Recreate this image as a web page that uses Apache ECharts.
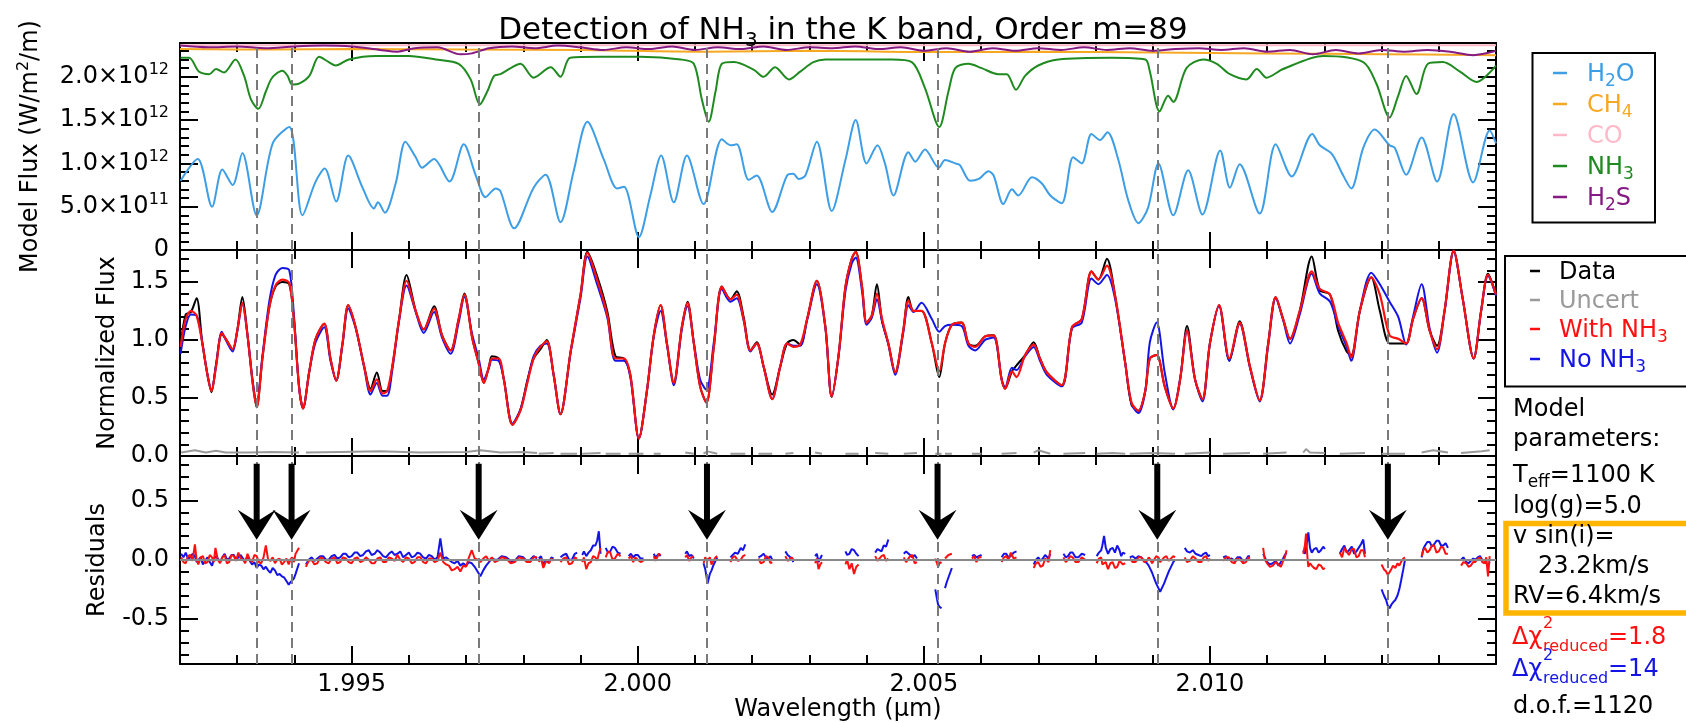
<!DOCTYPE html>
<html>
<head>
<meta charset="utf-8">
<script src="https://cdn.jsdelivr.net/npm/echarts@6/dist/echarts.min.js"></script>
<style>
  html, body { margin: 0; padding: 0; background: #fff; }
  #chart { width: 1686px; height: 723px; }
</style>
</head>
<body>
<div id="chart"></div>
<script>
// ---------------- data ----------------
// wavelength range (micron)
const WL_MIN = 1.992, WL_MAX = 2.015;
// NH3 line positions (micron)
const nh3Lines = [1.99334, 1.99395, 1.99722, 2.00121, 2.00524, 2.00908, 2.01311];

// Model flux panel, values in units of 1e12 W/m^2/m
const fluxH2O = [[1.99201,0.80],[1.99231,1.05],[1.99256,0.50],[1.99274,0.93],[1.99292,0.75],[1.99309,1.12],[1.99334,0.40],[1.99362,1.23],[1.99391,1.42],[1.99414,0.40],[1.99437,0.79],[1.99453,0.94],[1.99473,0.56],[1.99494,1.09],[1.99519,0.72],[1.99539,0.48],[1.99546,0.55],[1.99558,0.43],[1.99577,0.77],[1.99594,1.25],[1.99612,1.07],[1.99623,0.95],[1.99644,1.05],[1.99671,0.79],[1.99696,1.22],[1.99717,0.86],[1.99734,0.61],[1.99752,0.71],[1.9976,0.68],[1.99784,0.25],[1.99818,0.72],[1.99839,0.87],[1.99865,0.32],[1.99888,0.91],[1.99912,1.48],[1.99941,1.04],[1.99964,0.71],[1.99976,0.73],[2.00002,0.15],[2.00022,0.63],[2.00041,1.09],[2.00063,0.55],[2.00086,1.09],[2.00115,0.53],[2.00147,1.28],[2.00162,1.21],[2.00173,1.22],[2.00194,0.81],[2.00208,0.86],[2.00235,0.44],[2.00261,0.86],[2.00272,0.88],[2.00281,0.82],[2.00293,0.86],[2.00313,1.25],[2.00339,0.45],[2.00363,1.04],[2.00381,1.50],[2.004,1.00],[2.00419,1.21],[2.00432,1.00],[2.00447,0.63],[2.00473,1.13],[2.00485,1.02],[2.00502,1.16],[2.00526,0.95],[2.00537,1.04],[2.00555,1.00],[2.00563,0.98],[2.00581,0.80],[2.00596,0.82],[2.00613,0.91],[2.00622,0.86],[2.00639,0.53],[2.00654,0.70],[2.00665,0.63],[2.00689,0.84],[2.00706,0.77],[2.00721,0.63],[2.00741,0.54],[2.00761,1.07],[2.00776,1.00],[2.00793,1.34],[2.00808,1.27],[2.00821,1.36],[2.0084,1.04],[2.00857,0.58],[2.00875,0.31],[2.00892,0.49],[2.0091,1.00],[2.00936,0.40],[2.00962,0.92],[2.00987,0.41],[2.01018,1.15],[2.01035,0.72],[2.01052,0.99],[2.01087,0.42],[2.01115,1.22],[2.01143,0.85],[2.01179,1.34],[2.01192,1.21],[2.01213,1.11],[2.01233,0.86],[2.01247,0.71],[2.01268,1.18],[2.01288,1.39],[2.01314,1.21],[2.01323,1.18],[2.01343,0.87],[2.0137,1.30],[2.01397,0.79],[2.01426,1.57],[2.0146,0.78],[2.01489,1.38],[2.015,1.23]];
const fluxCH4 = [[1.992,2.32],[1.9936,2.315],[1.995,2.32],[1.997,2.315],[1.999,2.31],[2.0012,2.29],[2.003,2.30],[2.0053,2.285],[2.007,2.29],[2.009,2.28],[2.011,2.27],[2.013,2.26],[2.015,2.25]];
const fluxCO = [[1.992,2.365],[2.0035,2.365],[2.015,2.365]];
const fluxNH3 = [[1.99201,2.22],[1.99216,2.22],[1.99233,2.06],[1.99251,2.03],[1.99263,2.09],[1.99277,2.05],[1.99297,2.20],[1.99312,2.01],[1.99324,1.74],[1.99337,1.63],[1.9935,1.83],[1.99359,1.97],[1.99367,2.03],[1.99379,2.07],[1.99388,2.01],[1.99396,1.91],[1.99408,1.92],[1.99426,2.01],[1.99443,2.23],[1.9946,2.17],[1.99472,2.13],[1.99495,2.20],[1.99542,2.24],[1.996,2.24],[1.99647,2.20],[1.99687,2.15],[1.99708,1.97],[1.99724,1.68],[1.99737,1.83],[1.99749,2.01],[1.9976,2.03],[1.99778,2.10],[1.99795,2.15],[1.99818,1.99],[1.99848,2.11],[1.99865,2.00],[1.99882,2.22],[1.99935,2.23],[2.00005,2.23],[2.00075,2.20],[2.00098,2.15],[2.00112,1.74],[2.00124,1.48],[2.00136,1.83],[2.00147,2.15],[2.00168,2.17],[2.00203,2.08],[2.0022,2.00],[2.0024,2.11],[2.00264,1.97],[2.00284,2.06],[2.00307,2.17],[2.00328,2.20],[2.00386,2.20],[2.00444,2.20],[2.00479,2.17],[2.00502,1.87],[2.00527,1.42],[2.00543,1.83],[2.00555,2.10],[2.00578,2.15],[2.00601,2.10],[2.0063,2.03],[2.00645,2.03],[2.00661,1.85],[2.00677,2.01],[2.007,2.13],[2.00735,2.20],[2.00828,2.22],[2.00887,2.20],[2.00895,2.06],[2.00912,1.60],[2.00927,1.78],[2.00936,1.71],[2.00959,2.10],[2.00988,2.20],[2.01012,2.15],[2.01035,2.03],[2.01064,1.97],[2.01082,2.09],[2.01099,1.99],[2.01128,2.09],[2.01198,2.24],[2.01268,2.17],[2.01291,1.92],[2.01314,1.53],[2.01329,1.78],[2.01343,2.01],[2.01361,1.80],[2.01381,2.15],[2.01407,2.17],[2.01437,2.06],[2.01466,1.94],[2.015,2.13]];
const fluxH2S = [[1.992,2.36],[1.9925,2.34],[1.993,2.35],[1.9935,2.33],[1.994,2.35],[1.9945,2.36],[1.995,2.35],[1.9955,2.31],[1.9958,2.29],[1.9961,2.33],[1.9965,2.34],[1.9969,2.26],[1.9971,2.27],[1.9974,2.33],[1.9978,2.35],[1.9982,2.33],[1.9986,2.36],[1.999,2.34],[1.9994,2.31],[1.9998,2.34],[2.0002,2.32],[2.0006,2.35],[2.001,2.31],[2.0014,2.34],[2.0018,2.32],[2.0022,2.35],[2.0026,2.31],[2.003,2.34],[2.0034,2.33],[2.0038,2.35],[2.0042,2.32],[2.0046,2.34],[2.005,2.30],[2.0054,2.33],[2.0058,2.29],[2.0062,2.33],[2.0066,2.30],[2.007,2.33],[2.0074,2.31],[2.0078,2.34],[2.0082,2.31],[2.0086,2.33],[2.009,2.30],[2.0094,2.32],[2.0098,2.33],[2.0102,2.31],[2.0106,2.33],[2.011,2.29],[2.0114,2.31],[2.0118,2.26],[2.0122,2.31],[2.0126,2.27],[2.013,2.31],[2.0134,2.29],[2.0138,2.31],[2.0142,2.29],[2.0146,2.25],[2.015,2.30]];

// Normalized flux panel
const dataFlux = [[1.99201,0.95],[1.9921,1.22],[1.99219,1.24],[1.99229,1.36],[1.99239,0.97],[1.99248,0.70],[1.99255,0.55],[1.99263,0.79],[1.99273,1.05],[1.9928,1.01],[1.99292,0.92],[1.993,1.08],[1.99309,1.37],[1.99318,1.04],[1.99327,0.63],[1.99334,0.42],[1.99344,0.84],[1.99356,1.28],[1.99367,1.46],[1.99379,1.50],[1.99391,1.48],[1.99399,1.18],[1.99408,0.60],[1.99415,0.41],[1.99426,0.73],[1.99437,1.01],[1.99452,1.14],[1.99463,0.84],[1.99473,0.65],[1.99484,0.97],[1.99494,1.30],[1.99507,1.11],[1.99522,0.77],[1.99533,0.58],[1.99544,0.72],[1.99554,0.56],[1.99562,0.56],[1.99571,0.77],[1.99583,1.18],[1.99596,1.56],[1.99612,1.25],[1.99626,1.09],[1.99644,1.29],[1.99658,1.04],[1.99673,0.91],[1.99687,1.18],[1.99697,1.40],[1.99711,1.01],[1.99722,0.80],[1.99731,0.63],[1.9974,0.77],[1.99745,0.86],[1.99757,0.84],[1.99766,0.66],[1.99781,0.27],[1.99795,0.40],[1.99807,0.65],[1.99818,0.84],[1.9983,0.92],[1.99841,1.00],[1.99853,0.70],[1.99865,0.36],[1.99883,0.91],[1.999,1.39],[1.99912,1.76],[1.99929,1.55],[1.99947,1.24],[1.99961,0.86],[1.99976,0.84],[1.99987,0.70],[2.00002,0.15],[2.00016,0.56],[2.00028,1.04],[2.0004,1.30],[2.00051,0.97],[2.00063,0.63],[2.00077,1.11],[2.00087,1.33],[2.00098,0.97],[2.00109,0.60],[2.0012,0.46],[2.00133,0.94],[2.00147,1.46],[2.00162,1.35],[2.00173,1.42],[2.00185,1.20],[2.00197,0.91],[2.00208,0.98],[2.0022,0.77],[2.00235,0.53],[2.00249,0.77],[2.00261,0.97],[2.00272,1.00],[2.00284,0.96],[2.00296,1.18],[2.00313,1.51],[2.00328,1.11],[2.00339,0.51],[2.00351,0.87],[2.00363,1.46],[2.00374,1.70],[2.00381,1.76],[2.00392,1.46],[2.004,1.15],[2.00409,1.21],[2.00418,1.48],[2.00427,1.16],[2.00438,0.97],[2.0045,0.72],[2.00464,1.08],[2.00473,1.37],[2.00482,1.25],[2.00496,1.25],[2.00514,0.97],[2.00527,0.68],[2.00537,0.97],[2.00549,1.13],[2.00566,1.15],[2.00578,0.97],[2.0059,0.95],[2.00607,1.03],[2.00622,1.04],[2.00636,0.66],[2.00642,0.58],[2.00654,0.73],[2.00662,0.78],[2.00677,0.87],[2.00692,0.98],[2.00703,0.84],[2.00715,0.72],[2.00741,0.61],[2.00759,1.11],[2.00776,1.18],[2.00793,1.59],[2.00805,1.52],[2.0082,1.70],[2.00834,1.39],[2.00852,0.80],[2.00863,0.44],[2.00875,0.39],[2.00887,0.56],[2.00895,0.84],[2.00907,0.87],[2.00921,0.60],[2.00936,0.41],[2.00948,0.66],[2.0096,1.12],[2.00974,0.66],[2.00987,0.49],[2.01,0.97],[2.01016,1.30],[2.01034,0.82],[2.01052,1.16],[2.0107,0.77],[2.01087,0.48],[2.01102,0.98],[2.01115,1.37],[2.01128,1.18],[2.0114,1.01],[2.01157,1.25],[2.01178,1.72],[2.01192,1.43],[2.0121,1.39],[2.01224,1.08],[2.01239,0.90],[2.01247,0.87],[2.01262,1.25],[2.01282,1.54],[2.01297,1.25],[2.01314,0.97],[2.01329,0.97],[2.01343,0.97],[2.01355,1.18],[2.0137,1.36],[2.01384,1.08],[2.01397,0.95],[2.0141,1.25],[2.01426,1.77],[2.01442,1.35],[2.01461,0.84],[2.01474,1.25],[2.01486,1.57],[2.015,1.39]];
const withNH3Flux = [[1.99201,0.94],[1.9921,1.18],[1.99219,1.25],[1.99229,1.21],[1.99239,0.97],[1.99248,0.70],[1.99255,0.56],[1.99263,0.77],[1.99273,1.06],[1.9928,1.01],[1.99292,0.92],[1.993,1.08],[1.99309,1.32],[1.99318,1.04],[1.99327,0.63],[1.99334,0.42],[1.99344,0.84],[1.99356,1.28],[1.99367,1.47],[1.99379,1.52],[1.99391,1.49],[1.99399,1.18],[1.99408,0.60],[1.99415,0.41],[1.99426,0.73],[1.99437,1.01],[1.99452,1.14],[1.99463,0.84],[1.99473,0.65],[1.99484,0.97],[1.99494,1.30],[1.99507,1.11],[1.99522,0.77],[1.99533,0.56],[1.99544,0.66],[1.99554,0.54],[1.99562,0.56],[1.99571,0.77],[1.99583,1.18],[1.99596,1.51],[1.99612,1.25],[1.99626,1.09],[1.99644,1.27],[1.99658,1.04],[1.99673,0.91],[1.99687,1.18],[1.99697,1.39],[1.99711,1.01],[1.99722,0.80],[1.99731,0.63],[1.9974,0.77],[1.99745,0.84],[1.99757,0.84],[1.99766,0.66],[1.99781,0.27],[1.99795,0.39],[1.99807,0.63],[1.99818,0.84],[1.9983,0.94],[1.99841,0.99],[1.99853,0.70],[1.99865,0.36],[1.99883,0.91],[1.999,1.39],[1.99912,1.75],[1.99929,1.52],[1.99947,1.21],[1.99961,0.84],[1.99976,0.84],[1.99987,0.70],[2.00002,0.15],[2.00016,0.56],[2.00028,1.04],[2.0004,1.30],[2.00051,0.97],[2.00063,0.63],[2.00077,1.11],[2.00087,1.32],[2.00098,0.97],[2.00109,0.60],[2.0012,0.46],[2.00133,0.94],[2.00147,1.46],[2.00162,1.35],[2.00173,1.39],[2.00185,1.18],[2.00197,0.91],[2.00208,0.97],[2.0022,0.77],[2.00235,0.49],[2.00249,0.77],[2.00261,0.97],[2.00272,0.94],[2.00284,0.96],[2.00296,1.18],[2.00313,1.51],[2.00328,1.11],[2.00339,0.51],[2.00351,0.87],[2.00363,1.46],[2.00374,1.70],[2.00381,1.76],[2.00392,1.46],[2.004,1.15],[2.00409,1.21],[2.00418,1.40],[2.00427,1.18],[2.00438,0.97],[2.0045,0.72],[2.00464,1.08],[2.00473,1.34],[2.00482,1.25],[2.00496,1.25],[2.00514,0.97],[2.00527,0.73],[2.00537,0.97],[2.00549,1.13],[2.00566,1.15],[2.00578,0.97],[2.0059,0.94],[2.00607,1.03],[2.00622,1.04],[2.00636,0.66],[2.00642,0.58],[2.00654,0.73],[2.00662,0.68],[2.00677,0.87],[2.00692,0.96],[2.00703,0.84],[2.00715,0.72],[2.00741,0.61],[2.00759,1.11],[2.00776,1.18],[2.00793,1.59],[2.00805,1.52],[2.0082,1.64],[2.00834,1.39],[2.00852,0.80],[2.00863,0.46],[2.00875,0.39],[2.00887,0.56],[2.00895,0.84],[2.00907,0.87],[2.00921,0.60],[2.00936,0.41],[2.00948,0.66],[2.0096,1.08],[2.00974,0.66],[2.00987,0.49],[2.01,0.97],[2.01016,1.30],[2.01034,0.84],[2.01052,1.15],[2.0107,0.77],[2.01087,0.48],[2.01102,0.97],[2.01115,1.37],[2.01128,1.18],[2.0114,1.01],[2.01157,1.25],[2.01178,1.59],[2.01192,1.44],[2.0121,1.39],[2.01224,1.15],[2.01239,0.97],[2.01247,0.85],[2.01262,1.25],[2.01282,1.54],[2.01297,1.39],[2.01314,1.04],[2.01329,1.01],[2.01343,0.97],[2.01355,1.18],[2.0137,1.36],[2.01384,1.08],[2.01397,0.92],[2.0141,1.25],[2.01426,1.77],[2.01442,1.35],[2.01461,0.84],[2.01474,1.25],[2.01486,1.56],[2.015,1.39]];
const noNH3Flux = [[1.99201,0.88],[1.9921,1.12],[1.99219,1.22],[1.99229,1.21],[1.99239,0.98],[1.99248,0.70],[1.99255,0.57],[1.99263,0.78],[1.99273,1.07],[1.9928,1.00],[1.99292,0.90],[1.993,1.07],[1.99309,1.31],[1.99318,1.04],[1.99327,0.65],[1.99334,0.46],[1.99344,0.86],[1.99356,1.33],[1.99367,1.56],[1.99379,1.62],[1.99391,1.60],[1.99399,1.22],[1.99408,0.60],[1.99415,0.41],[1.99426,0.73],[1.99437,0.98],[1.99452,1.11],[1.99463,0.82],[1.99473,0.65],[1.99484,0.96],[1.99494,1.27],[1.99507,1.10],[1.99522,0.76],[1.99533,0.53],[1.99544,0.63],[1.99554,0.52],[1.99562,0.52],[1.99571,0.74],[1.99583,1.17],[1.99596,1.47],[1.99612,1.24],[1.99626,1.06],[1.99644,1.24],[1.99658,1.02],[1.99673,0.88],[1.99687,1.15],[1.99697,1.37],[1.99711,1.04],[1.99722,0.84],[1.99731,0.66],[1.9974,0.76],[1.99745,0.83],[1.99757,0.82],[1.99766,0.66],[1.99781,0.28],[1.99795,0.40],[1.99807,0.64],[1.99818,0.86],[1.9983,0.95],[1.99841,0.97],[1.99853,0.70],[1.99865,0.36],[1.99883,0.90],[1.999,1.36],[1.99912,1.72],[1.99929,1.48],[1.99947,1.19],[1.99961,0.82],[1.99976,0.82],[1.99987,0.68],[2.00002,0.15],[2.00016,0.56],[2.00028,1.03],[2.0004,1.25],[2.00051,0.96],[2.00063,0.61],[2.00077,1.09],[2.00087,1.29],[2.00098,0.98],[2.00109,0.66],[2.0012,0.57],[2.00133,0.98],[2.00147,1.44],[2.00162,1.33],[2.00173,1.36],[2.00185,1.17],[2.00197,0.90],[2.00208,0.97],[2.0022,0.77],[2.00235,0.49],[2.00249,0.77],[2.00261,0.97],[2.00272,0.95],[2.00284,0.95],[2.00296,1.17],[2.00313,1.48],[2.00328,1.10],[2.00339,0.51],[2.00351,0.86],[2.00363,1.42],[2.00374,1.66],[2.00381,1.71],[2.00392,1.42],[2.004,1.13],[2.00409,1.19],[2.00418,1.35],[2.00427,1.16],[2.00438,0.96],[2.0045,0.70],[2.00464,1.06],[2.00473,1.30],[2.00482,1.24],[2.00496,1.32],[2.00514,1.18],[2.00527,1.07],[2.00537,1.12],[2.00549,1.13],[2.00566,1.12],[2.00578,0.95],[2.0059,0.91],[2.00607,1.00],[2.00622,1.02],[2.00636,0.66],[2.00642,0.59],[2.00654,0.76],[2.00662,0.74],[2.00677,0.86],[2.00692,0.94],[2.00703,0.82],[2.00715,0.70],[2.00741,0.60],[2.00759,1.10],[2.00776,1.15],[2.00793,1.53],[2.00805,1.48],[2.0082,1.56],[2.00834,1.36],[2.00852,0.80],[2.00863,0.45],[2.00875,0.37],[2.00887,0.56],[2.00895,0.98],[2.00907,1.15],[2.00921,0.72],[2.00936,0.40],[2.00948,0.67],[2.0096,1.08],[2.00974,0.66],[2.00987,0.47],[2.01,0.97],[2.01016,1.29],[2.01034,0.82],[2.01052,1.14],[2.0107,0.76],[2.01087,0.47],[2.01102,0.96],[2.01115,1.36],[2.01128,1.17],[2.0114,0.97],[2.01157,1.22],[2.01178,1.57],[2.01192,1.40],[2.0121,1.33],[2.01224,1.12],[2.01239,0.94],[2.01247,0.82],[2.01262,1.25],[2.01282,1.58],[2.01297,1.48],[2.01314,1.33],[2.01329,1.20],[2.01343,0.96],[2.01355,1.20],[2.0137,1.48],[2.01384,1.10],[2.01397,0.89],[2.0141,1.24],[2.01426,1.76],[2.01442,1.35],[2.01461,0.84],[2.01474,1.25],[2.01486,1.55],[2.015,1.38]];
// null marks a masked wavelength interval
const uncertFlux = [[1.99202,0.03],[1.99226,0.05],[1.99245,0.03],[1.99263,0.045],[1.9928,0.03],[1.9932,0.03],[1.9936,0.035],[1.99408,0.03],null,
  [1.9942,0.03],[1.9948,0.035],[1.9955,0.04],[1.9962,0.03],[1.997,0.035],[1.99725,0.05],[1.9976,0.03],[1.998,0.035],[1.99824,0.025],null,
  [1.99827,0.02],[1.99853,0.025],null,[1.99865,0.02],[1.99894,0.02],null,[1.99903,0.02],[1.99935,0.025],null,[1.99944,0.02],[1.9997,0.02],null,
  [1.99984,0.02],[2.0001,0.02],null,[2.00028,0.02],[2.0004,0.02],null,[2.00083,0.03],[2.00098,0.02],null,[2.00115,0.02],[2.00122,0.04],[2.00139,0.02],null,
  [2.00162,0.02],[2.00188,0.02],null,[2.00211,0.02],[2.00235,0.02],null,[2.00258,0.02],[2.00272,0.025],null,[2.0031,0.03],[2.00322,0.02],null,
  [2.00363,0.02],[2.00386,0.02],null,[2.00415,0.025],[2.00438,0.02],null,[2.00465,0.02],[2.00488,0.025],null,[2.0052,0.02],[2.00531,0.02],null,
  [2.00537,0.02],[2.00549,0.02],null,[2.00584,0.02],[2.00601,0.02],null,[2.00636,0.02],[2.00662,0.025],null,[2.00692,0.03],[2.007,0.05],[2.00721,0.02],null,
  [2.00744,0.02],[2.00782,0.025],null,[2.00802,0.02],[2.0083,0.025],[2.00852,0.02],null,[2.0086,0.02],[2.009,0.025],[2.00939,0.02],null,
  [2.00956,0.02],[2.01,0.03],null,[2.01023,0.02],[2.0107,0.025],null,[2.01093,0.02],[2.01134,0.03],null,[2.01163,0.03],[2.01168,0.06],[2.01175,0.03],[2.01201,0.025],null,
  [2.01227,0.02],[2.01271,0.025],null,[2.013,0.02],[2.01341,0.02],null,[2.0137,0.03],[2.0139,0.05],[2.01416,0.03],null,[2.01439,0.025],[2.01475,0.04],[2.01489,0.05]];

// Residuals panel (data minus model); null marks a masked interval
const residWithNH3 = [[1.99202,0.02],[1.99206,-0.02],[1.9921,-0.03],[1.99214,0.03],[1.99218,0.04],[1.99222,-0.01],[1.99226,0.13],[1.99229,0.0],[1.99232,-0.04],[1.99236,0.02],[1.9924,0.03],[1.99244,-0.03],[1.99248,-0.02],[1.99252,0.04],[1.99256,0.02],[1.99259,-0.02],[1.99262,0.10],[1.99266,0.0],[1.9927,-0.03],[1.99274,0.02],[1.99278,0.04],[1.99282,-0.03],[1.99286,-0.02],[1.9929,0.04],[1.99294,0.03],[1.99298,-0.01],[1.99302,0.06],[1.99306,0.01],[1.9931,0.0],[1.99314,-0.03],[1.99318,0.05],[1.99322,0.0],[1.99326,-0.02],[1.9933,0.04],[1.99334,0.03],[1.99338,-0.02],[1.99342,-0.03],[1.99346,0.02],[1.9935,0.12],[1.99354,0.0],[1.99358,-0.01],[1.99362,0.02],[1.99366,-0.03],[1.9937,0.0],[1.99374,0.01],[1.99378,-0.04],[1.99382,-0.02],[1.99386,0.01],[1.9939,-0.04],[1.99393,0.0],[1.99396,0.02],[1.99399,-0.02],[1.99402,0.05],[1.99408,0.10],null,
  [1.9942,-0.06],[1.99425,-0.01],[1.9943,0.0],[1.99435,-0.04],[1.9944,-0.03],[1.99445,0.02],[1.9945,0.01],[1.99455,-0.02],[1.9946,-0.03],[1.99465,0.01],[1.9947,0.02],[1.99475,-0.03],[1.9948,-0.02],[1.99485,0.02],[1.9949,0.01],[1.99495,-0.02],[1.995,-0.03],[1.99505,0.01],[1.9951,0.02],[1.99515,-0.02],[1.9952,-0.01],[1.99525,0.02],[1.9953,0.0],[1.99535,-0.03],[1.9954,-0.03],[1.99545,0.01],[1.9955,0.02],[1.99555,-0.02],[1.9956,-0.02],[1.99565,0.02],[1.9957,0.01],[1.99575,-0.01],[1.9958,0.04],[1.99585,0.0],[1.9959,-0.02],[1.99595,0.02],[1.996,0.01],[1.99605,-0.03],[1.9961,-0.02],[1.99615,0.02],[1.9962,0.02],[1.99625,-0.02],[1.9963,-0.03],[1.99635,0.01],[1.9964,0.01],[1.99645,-0.02],[1.9965,-0.01],[1.99655,0.06],[1.9966,-0.02],[1.99665,-0.04],[1.9967,-0.05],[1.99675,-0.09],[1.9968,-0.08],[1.99685,-0.06],[1.9969,-0.10],[1.99695,-0.05],[1.997,-0.06],[1.99705,0.02],[1.9971,0.08],[1.99715,0.01],[1.9972,0.0],[1.99725,-0.02],[1.9973,0.01],[1.99735,0.03],[1.9974,-0.01],[1.99745,0.02],[1.9975,-0.02],[1.99755,-0.01],[1.99762,0.02],[1.9977,0.01],[1.99778,-0.03],[1.99785,-0.02],[1.99792,0.02],[1.998,0.01],[1.99806,-0.02],[1.99812,-0.02],[1.99818,0.02],[1.99824,0.02],null,
  [1.99827,-0.02],[1.99831,0.01],[1.99835,-0.07],[1.9984,-0.01],[1.99845,-0.03],[1.99849,0.01],[1.99853,-0.01],null,
  [1.99865,-0.02],[1.9987,0.01],[1.99875,0.02],[1.9988,-0.04],[1.99885,-0.03],[1.9989,0.02],[1.99894,0.01],null,
  [1.99903,-0.02],[1.99906,0.02],[1.9991,-0.08],[1.99914,-0.03],[1.99918,-0.02],[1.99922,0.03],[1.99926,0.02],[1.99929,-0.01],[1.99932,0.05],[1.99935,0.10],null,
  [1.99944,0.02],[1.99948,0.07],[1.99952,0.06],[1.99956,0.0],[1.9996,0.01],[1.99965,0.05],[1.9997,0.03],null,
  [1.99984,0.01],[1.99988,0.03],[1.99992,-0.02],[1.99996,0.02],[2.0,0.0],[2.00005,-0.02],[2.0001,-0.01],null,
  [2.00028,0.03],[2.00031,-0.01],[2.00034,-0.02],[2.00037,0.05],[2.0004,0.04],null,
  [2.00083,0.02],[2.00086,0.04],[2.0009,-0.01],[2.00094,0.02],[2.00098,0.03],null,
  [2.00115,-0.03],[2.00118,0.02],[2.00122,-0.01],[2.00126,0.02],[2.00129,-0.04],[2.00132,-0.03],[2.00136,0.02],[2.00139,0.03],null,
  [2.00162,-0.02],[2.00166,0.02],[2.0017,0.03],[2.00175,-0.01],[2.0018,0.0],[2.00184,0.03],[2.00188,0.04],null,
  [2.00211,0.01],[2.00215,-0.03],[2.0022,-0.02],[2.00224,0.03],[2.00228,0.02],[2.00232,-0.03],[2.00235,-0.02],null,
  [2.00258,0.03],[2.00262,-0.01],[2.00265,-0.02],[2.00269,0.02],[2.00272,0.0],null,
  [2.0031,-0.03],[2.00313,0.01],[2.00316,-0.08],[2.00319,-0.04],[2.00322,-0.02],null,
  [2.00363,-0.04],[2.00366,0.0],[2.0037,-0.08],[2.00374,-0.03],[2.00378,-0.12],[2.00382,-0.06],[2.00386,-0.04],null,
  [2.00415,0.03],[2.00419,-0.01],[2.00422,-0.02],[2.00426,0.03],[2.0043,0.04],[2.00434,-0.01],[2.00438,0.01],null,
  [2.00465,0.02],[2.00469,-0.02],[2.00472,-0.03],[2.00476,0.03],[2.0048,0.04],[2.00484,-0.03],[2.00488,-0.02],null,
  [2.0052,0.01],[2.00523,-0.03],[2.00525,-0.06],[2.00528,-0.02],[2.00531,-0.03],null,
  [2.00537,0.01],[2.0054,0.02],[2.00543,0.04],[2.00546,0.03],[2.00549,0.05],null,
  [2.00584,0.01],[2.00588,0.03],[2.00592,-0.02],[2.00596,0.02],[2.00601,0.02],null,
  [2.00636,-0.02],[2.0064,0.02],[2.00644,0.03],[2.00648,0.0],[2.00652,0.06],[2.00657,0.01],[2.00662,0.02],null,
  [2.00692,-0.07],[2.00696,-0.03],[2.007,-0.02],[2.00704,-0.06],[2.00708,-0.05],[2.00712,0.01],[2.00715,0.02],[2.00718,-0.02],[2.00721,0.08],null,
  [2.00744,0.02],[2.00748,-0.02],[2.00752,0.0],[2.00756,0.03],[2.0076,0.02],[2.00765,-0.02],[2.0077,-0.02],[2.00776,0.02],[2.00782,0.0],null,
  [2.00802,-0.03],[2.00806,0.01],[2.0081,0.02],[2.00812,-0.04],[2.00815,-0.05],[2.00818,-0.02],[2.00822,-0.08],[2.00826,-0.03],[2.0083,-0.02],[2.00834,-0.07],[2.00838,-0.06],[2.00842,-0.01],[2.00845,0.0],[2.00848,-0.04],[2.00852,-0.03],null,
  [2.0086,0.01],[2.00865,-0.02],[2.0087,-0.02],[2.00875,0.02],[2.0088,0.02],[2.00885,-0.02],[2.0089,-0.01],[2.00893,0.02],[2.00896,0.0],[2.00899,-0.03],[2.00902,-0.02],[2.00906,0.03],[2.0091,0.02],[2.00913,-0.02],[2.00916,-0.02],[2.0092,0.02],[2.00924,0.03],[2.00928,-0.01],[2.00932,0.01],[2.00936,0.03],[2.00939,0.02],null,
  [2.00956,0.02],[2.0096,-0.02],[2.00965,-0.01],[2.0097,0.03],[2.00975,0.01],[2.0098,-0.02],[2.00985,-0.02],[2.00989,0.02],[2.00993,0.03],[2.00997,-0.01],[2.01,0.01],null,
  [2.01023,-0.01],[2.01028,0.02],[2.01033,0.02],[2.01038,-0.02],[2.01043,-0.03],[2.01048,0.01],[2.01053,0.0],[2.01058,-0.03],[2.01063,-0.02],[2.01067,0.02],[2.0107,0.01],null,
  [2.01093,0.10],[2.01096,0.0],[2.011,-0.03],[2.01105,-0.06],[2.0111,-0.05],[2.01115,-0.02],[2.0112,-0.04],[2.01124,-0.06],[2.01128,-0.01],[2.01131,0.02],[2.01134,0.08],null,
  [2.01163,0.05],[2.01166,0.12],[2.01168,0.22],[2.0117,0.05],[2.01172,-0.06],[2.01175,-0.03],[2.01178,-0.05],[2.01182,-0.07],[2.01186,-0.08],[2.0119,-0.04],[2.01194,-0.05],[2.01198,-0.08],[2.01201,-0.07],null,
  [2.01227,0.06],[2.01231,0.02],[2.01235,0.10],[2.01239,0.07],[2.01243,0.04],[2.01248,0.09],[2.01252,0.09],[2.01256,0.02],[2.0126,0.03],[2.01264,0.08],[2.01268,0.08],[2.01271,0.02],null,
  [2.013,-0.04],[2.01304,-0.08],[2.01308,-0.10],[2.01311,-0.13],[2.01314,-0.12],[2.01317,-0.08],[2.0132,-0.05],[2.01324,-0.07],[2.01328,-0.03],[2.01331,-0.05],[2.01334,-0.02],[2.01338,0.01],[2.01341,0.02],null,
  [2.0137,0.03],[2.01373,0.08],[2.01376,0.10],[2.0138,0.06],[2.01384,0.08],[2.01388,0.12],[2.01392,0.12],[2.01396,0.06],[2.014,0.07],[2.01404,0.11],[2.01408,0.10],[2.01412,0.05],[2.01416,0.05],null,
  [2.01439,-0.05],[2.01443,-0.02],[2.01448,-0.03],[2.01452,-0.06],[2.01456,-0.05],[2.0146,-0.02],[2.01464,-0.02],[2.01468,0.01],[2.01472,0.02],[2.01476,-0.02],[2.0148,-0.03],[2.01483,0.02],[2.01486,-0.14],[2.01489,0.03]];
const residNoNH3 = [[1.99202,0.05],[1.99206,0.02],[1.9921,0.06],[1.99214,0.01],[1.99218,0.02],[1.99222,0.05],[1.99226,0.03],[1.99229,-0.02],[1.99232,-0.01],[1.99236,0.02],[1.9924,-0.04],[1.99244,-0.01],[1.99248,0.02],[1.99252,-0.02],[1.99256,-0.05],[1.99259,0.0],[1.99262,0.03],[1.99266,0.01],[1.9927,-0.02],[1.99274,0.02],[1.99278,0.05],[1.99282,0.0],[1.99286,0.01],[1.9929,0.04],[1.99294,0.04],[1.99298,0.0],[1.99302,0.02],[1.99306,0.04],[1.9931,0.01],[1.99314,-0.01],[1.99318,0.03],[1.99322,-0.01],[1.99326,-0.04],[1.9933,-0.02],[1.99334,-0.07],[1.99338,-0.04],[1.99342,-0.05],[1.99346,-0.08],[1.9935,-0.06],[1.99354,-0.09],[1.99358,-0.11],[1.99362,-0.07],[1.99366,-0.09],[1.9937,-0.13],[1.99374,-0.12],[1.99378,-0.14],[1.99382,-0.15],[1.99386,-0.18],[1.9939,-0.21],[1.99393,-0.19],[1.99396,-0.18],[1.99399,-0.16],[1.99402,-0.12],[1.99408,-0.03],null,
  [1.9942,-0.04],[1.99425,0.0],[1.9943,0.02],[1.99435,-0.01],[1.9944,0.01],[1.99445,0.03],[1.9945,0.03],[1.99455,0.0],[1.9946,0.0],[1.99465,0.03],[1.9947,0.04],[1.99475,0.01],[1.9948,0.02],[1.99485,0.05],[1.9949,0.05],[1.99495,0.02],[1.995,0.03],[1.99505,0.06],[1.9951,0.06],[1.99515,0.03],[1.9952,0.04],[1.99525,0.07],[1.9953,0.08],[1.99535,0.04],[1.9954,0.05],[1.99545,0.08],[1.9955,0.06],[1.99555,0.03],[1.9956,0.02],[1.99565,0.05],[1.9957,0.07],[1.99575,0.04],[1.9958,0.05],[1.99585,0.07],[1.9959,0.02],[1.99595,0.04],[1.996,0.06],[1.99605,0.02],[1.9961,0.03],[1.99615,0.06],[1.9962,0.05],[1.99625,0.02],[1.9963,0.01],[1.99635,0.04],[1.9964,0.03],[1.99645,0.0],[1.9965,0.02],[1.99655,0.18],[1.9966,0.01],[1.99665,0.02],[1.9967,0.0],[1.99675,-0.02],[1.9968,-0.03],[1.99685,-0.01],[1.9969,-0.05],[1.99695,-0.03],[1.997,-0.05],[1.99705,-0.02],[1.9971,-0.03],[1.99715,-0.06],[1.9972,-0.10],[1.99725,-0.14],[1.9973,-0.09],[1.99735,-0.05],[1.9974,-0.02],[1.99745,0.01],[1.9975,0.0],[1.99755,0.0],[1.99762,0.03],[1.9977,0.02],[1.99778,-0.01],[1.99785,-0.01],[1.99792,0.03],[1.998,0.02],[1.99806,-0.01],[1.99812,0.0],[1.99818,0.03],[1.99824,0.01],null,
  [1.99827,0.01],[1.99831,0.03],[1.99835,-0.04],[1.9984,0.0],[1.99845,-0.02],[1.99849,0.02],[1.99853,0.01],null,
  [1.99865,0.02],[1.9987,0.04],[1.99875,0.05],[1.9988,0.0],[1.99885,0.0],[1.9989,0.05],[1.99894,0.06],null,
  [1.99903,0.04],[1.99906,0.07],[1.9991,0.03],[1.99914,0.06],[1.99918,0.08],[1.99922,0.12],[1.99926,0.12],[1.99929,0.16],[1.99932,0.24],[1.99935,0.05],null,
  [1.99944,0.10],[1.99948,0.06],[1.99952,0.07],[1.99956,0.11],[1.9996,0.10],[1.99965,0.06],[1.9997,0.05],null,
  [1.99984,0.03],[1.99988,0.05],[1.99992,0.02],[1.99996,0.04],[2.0,0.04],[2.00005,0.01],[2.0001,0.01],null,
  [2.00028,0.05],[2.00031,0.02],[2.00034,0.01],[2.00037,0.05],[2.0004,0.03],null,
  [2.00083,0.05],[2.00086,0.07],[2.0009,0.03],[2.00094,0.04],[2.00098,0.01],null,
  [2.00115,-0.03],[2.00118,-0.08],[2.00122,-0.20],[2.00126,-0.12],[2.00129,-0.09],[2.00132,-0.05],[2.00136,-0.01],[2.00139,0.02],null,
  [2.00162,0.02],[2.00166,0.04],[2.0017,0.06],[2.00175,0.05],[2.0018,0.10],[2.00184,0.08],[2.00188,0.13],null,
  [2.00211,0.02],[2.00215,0.03],[2.0022,0.05],[2.00224,0.02],[2.00228,0.01],[2.00232,0.03],[2.00235,0.0],null,
  [2.00258,0.07],[2.00262,0.04],[2.00265,0.05],[2.00269,0.01],[2.00272,-0.02],null,
  [2.0031,0.03],[2.00313,0.05],[2.00316,-0.02],[2.00319,0.01],[2.00322,0.04],null,
  [2.00363,0.07],[2.00366,0.04],[2.0037,0.05],[2.00374,0.09],[2.00378,0.08],[2.00382,0.05],[2.00386,0.03],null,
  [2.00415,0.06],[2.00419,0.09],[2.00422,0.10],[2.00426,0.07],[2.0043,0.12],[2.00434,0.11],[2.00438,0.17],null,
  [2.00465,0.05],[2.00469,0.07],[2.00472,0.08],[2.00476,0.04],[2.0048,0.02],[2.00484,0.04],[2.00488,0.01],null,
  [2.0052,-0.25],[2.00523,-0.33],[2.00525,-0.38],[2.00528,-0.40],[2.00531,-0.41],null,
  [2.00537,-0.24],[2.0054,-0.19],[2.00543,-0.15],[2.00546,-0.11],[2.00549,-0.07],null,
  [2.00584,0.03],[2.00588,0.04],[2.00592,0.02],[2.00596,0.03],[2.00601,0.04],null,
  [2.00636,0.02],[2.0064,0.05],[2.00644,0.05],[2.00648,0.02],[2.00652,0.03],[2.00657,0.06],[2.00662,0.07],null,
  [2.00692,-0.04],[2.00696,0.0],[2.007,0.02],[2.00704,-0.01],[2.00708,0.01],[2.00712,0.04],[2.00715,0.03],[2.00718,0.01],[2.00721,0.05],null,
  [2.00744,0.05],[2.00748,0.02],[2.00752,0.03],[2.00756,0.06],[2.0076,0.06],[2.00765,0.02],[2.0077,0.02],[2.00776,0.05],[2.00782,0.04],null,
  [2.00802,0.03],[2.00806,0.06],[2.0081,0.08],[2.00812,0.12],[2.00815,0.20],[2.00818,0.10],[2.00822,0.05],[2.00826,0.09],[2.0083,0.10],[2.00834,0.06],[2.00838,0.12],[2.00842,0.08],[2.00845,0.03],[2.00848,0.06],[2.00852,0.05],null,
  [2.0086,0.02],[2.00865,0.03],[2.0087,0.01],[2.00875,0.03],[2.0088,0.02],[2.00885,-0.01],[2.0089,-0.03],[2.00893,-0.05],[2.00896,-0.08],[2.00899,-0.11],[2.00902,-0.15],[2.00906,-0.20],[2.0091,-0.24],[2.00913,-0.27],[2.00916,-0.26],[2.0092,-0.20],[2.00924,-0.15],[2.00928,-0.10],[2.00932,-0.06],[2.00936,-0.02],[2.00939,0.0],null,
  [2.00956,0.10],[2.0096,0.07],[2.00965,0.06],[2.0097,0.08],[2.00975,0.05],[2.0098,0.04],[2.00985,0.03],[2.00989,0.05],[2.00993,0.06],[2.00997,0.03],[2.01,0.04],null,
  [2.01023,0.02],[2.01028,0.03],[2.01033,0.0],[2.01038,0.01],[2.01043,-0.01],[2.01048,0.02],[2.01053,0.02],[2.01058,-0.01],[2.01063,0.0],[2.01067,0.03],[2.0107,0.03],null,
  [2.01093,0.05],[2.01096,0.02],[2.011,-0.02],[2.01105,-0.04],[2.0111,-0.03],[2.01115,-0.01],[2.0112,-0.05],[2.01124,-0.02],[2.01128,0.01],[2.01131,0.04],[2.01134,0.06],null,
  [2.01163,0.08],[2.01166,0.05],[2.01168,0.10],[2.0117,0.16],[2.01172,0.23],[2.01175,0.10],[2.01178,0.06],[2.01182,0.09],[2.01186,0.10],[2.0119,0.06],[2.01194,0.08],[2.01198,0.11],[2.01201,0.09],null,
  [2.01227,0.05],[2.01231,0.09],[2.01235,0.12],[2.01239,0.06],[2.01243,0.08],[2.01248,0.11],[2.01252,0.05],[2.01256,0.07],[2.0126,0.10],[2.01264,0.13],[2.01268,0.17],[2.01271,0.05],null,
  [2.013,-0.25],[2.01304,-0.30],[2.01308,-0.34],[2.01311,-0.39],[2.01314,-0.41],[2.01317,-0.38],[2.0132,-0.36],[2.01324,-0.34],[2.01328,-0.30],[2.01331,-0.25],[2.01334,-0.18],[2.01338,-0.08],[2.01341,0.0],null,
  [2.0137,0.02],[2.01373,0.09],[2.01376,0.12],[2.0138,0.15],[2.01384,0.15],[2.01388,0.11],[2.01392,0.13],[2.01396,0.16],[2.014,0.16],[2.01404,0.12],[2.01408,0.12],[2.01412,0.14],[2.01416,0.10],null,
  [2.01439,0.0],[2.01443,0.02],[2.01448,-0.02],[2.01452,-0.03],[2.01456,-0.01],[2.0146,0.01],[2.01464,0.0],[2.01468,0.02],[2.01472,0.03],[2.01476,0.0],[2.0148,-0.01],[2.01483,-0.03],[2.01486,-0.05],[2.01489,-0.02]];

// ---------------- styling ----------------
const FONT = 'DejaVu Sans';
const C = {
  h2o: '#3d9ee6', ch4: '#f7a823', co: '#ffb8c8', nh3: '#1f8a1f', h2s: '#861a84',
  data: '#000000', uncert: '#9a9a9a', withNH3: '#ff1010', noNH3: '#1414e6',
  dash: '#7a7a7a', box: '#ffb400'
};

// break a line wherever the source array holds null
function withGaps(pairs) {
  const out = [];
  let lastX = null;
  for (const p of pairs) {
    if (p === null) out.push([lastX, '-']);
    else { out.push(p); lastX = p[0]; }
  }
  return out;
}

const tickLine = { color: '#000', width: 2 };
function axisCommon(extra) {
  return Object.assign({
    type: 'value',
    axisLine: { show: true, onZero: false, lineStyle: tickLine },
    axisTick: { show: true, inside: true, length: 18, lineStyle: tickLine },
    minorTick: { show: true, splitNumber: 5, length: 9, lineStyle: tickLine },
    splitLine: { show: false },
    minorSplitLine: { show: false },
    axisLabel: { show: false }
  }, extra);
}
function xPair(grid, withLabels) {
  const bottom = axisCommon({ gridIndex: grid, position: 'bottom', min: WL_MIN, max: WL_MAX, splitNumber: 5 });
  if (withLabels) {
    bottom.axisLabel = {
      show: true, margin: 9, color: '#000', fontFamily: FONT, fontSize: 24,
      showMinLabel: false, showMaxLabel: false,
      formatter: v => v.toFixed(3)
    };
    bottom.name = 'Wavelength (μm)';
    bottom.nameLocation = 'middle';
    bottom.nameGap = 30;
    bottom.nameTextStyle = { color: '#000', fontFamily: FONT, fontSize: 24 };
  }
  const top = axisCommon({ gridIndex: grid, position: 'top', min: WL_MIN, max: WL_MAX, splitNumber: 5 });
  return [bottom, top];
}
function yPair(grid, range, label, name) {
  const left = axisCommon(Object.assign({ gridIndex: grid, position: 'left' }, range));
  left.axisLabel = Object.assign({
    show: true, margin: 11, color: '#000', fontFamily: FONT, fontSize: 24, showMaxLabel: false
  }, label);
  Object.assign(left, name);
  const right = axisCommon(Object.assign({ gridIndex: grid, position: 'right' }, range));
  return [left, right];
}

function fluxLabel(v) {
  if (Math.abs(v) < 1e-9) return '0';
  const e = Math.floor(Math.log10(v) + 12 + 1e-9);
  const mant = (v * Math.pow(10, 12 - e)).toFixed(1);
  return '{n|' + mant + '×10}{s|' + e + '}';
}

const nameStyle = { color: '#000', fontFamily: FONT, fontSize: 24 };
const xAxes = [].concat(xPair(0, false), xPair(1, false), xPair(2, true));
const yAxes = [].concat(
  yPair(0, { min: 0, max: 2.39, interval: 0.5 }, {
    formatter: fluxLabel,
    rich: {
      n: { fontFamily: FONT, fontSize: 24, color: '#000' },
      s: { fontFamily: FONT, fontSize: 16, color: '#000', padding: [0, 0, 14, 0] }
    }
  }, {
    name: 'Model Flux (W/m{s|2}/m)', nameLocation: 'middle', nameRotate: 90, nameGap: 134,
    nameTextStyle: Object.assign({ rich: { s: { fontFamily: FONT, fontSize: 16, color: '#000', padding: [0, 0, 14, 0] } } }, nameStyle)
  }),
  yPair(1, { min: 0, max: 1.775, interval: 0.5 }, { formatter: v => v.toFixed(1) }, {
    name: 'Normalized Flux', nameLocation: 'middle', nameRotate: 90, nameGap: 60, nameTextStyle: nameStyle
  }),
  yPair(2, { min: -0.88, max: 0.875, splitNumber: 4 }, { formatter: v => v.toFixed(1), showMinLabel: false }, {
    name: 'Residuals', nameLocation: 'middle', nameRotate: 90, nameGap: 70, nameTextStyle: nameStyle
  })
);

const dashStyle = { color: C.dash, width: 2, type: [10, 6] };
const dashedLines = nh3Lines.map(x => ({ xAxis: x, lineStyle: dashStyle }));
function markLines(extra) {
  return {
    silent: true, symbol: 'none', precision: 6, label: { show: false },
    lineStyle: dashStyle,
    data: dashedLines.concat(extra || [])
  };
}
function lineSeries(name, data, color, xi, yi, width, smooth, extra) {
  return Object.assign({
    type: 'line', name, data, xAxisIndex: xi, yAxisIndex: yi,
    showSymbol: false, symbol: 'none', smooth: smooth, connectNulls: false,
    lineStyle: { color, width }, itemStyle: { color }, silent: true
  }, extra || {});
}

// arrow glyph pointing down, drawn at each NH3 line in the residual panel
const ARROW_PATH = 'path://M16,0 L22,0 L22,56 L38,46 L19,76 L0,46 L16,56 Z';
const ARROW_LEVEL = 0.49;

const series = [
  lineSeries('H2O', fluxH2O, C.h2o, 0, 0, 2, 0.3, { markLine: markLines() }),
  lineSeries('CH4', fluxCH4, C.ch4, 0, 0, 2, 0.35),
  lineSeries('CO', fluxCO, C.co, 0, 0, 2, false),
  lineSeries('NH3', fluxNH3, C.nh3, 0, 0, 2, 0.3),
  lineSeries('H2S', fluxH2S, C.h2s, 0, 0, 2, 0.3),

  lineSeries('Data', dataFlux, C.data, 2, 2, 2, 0.3, { markLine: markLines() }),
  lineSeries('Uncert', withGaps(uncertFlux), C.uncert, 2, 2, 2, false),
  lineSeries('No NH3', noNH3Flux, C.noNH3, 2, 2, 2, 0.3),
  lineSeries('With NH3', withNH3Flux, C.withNH3, 2, 2, 2.2, 0.3),

  lineSeries('No NH3 residual', withGaps(residNoNH3), C.noNH3, 4, 4, 2, false, {
    markLine: markLines([{ yAxis: 0, lineStyle: { color: '#888', width: 2, type: 'solid' } }])
  }),
  lineSeries('With NH3 residual', withGaps(residWithNH3), C.withNH3, 4, 4, 2, false),
  {
    type: 'scatter', name: 'NH3 lines', xAxisIndex: 4, yAxisIndex: 4, silent: true, z: 10,
    symbol: ARROW_PATH, symbolSize: [38, 76], itemStyle: { color: '#000', opacity: 1 },
    data: nh3Lines.map(x => [x, ARROW_LEVEL])
  }
];

// ---------------- legends and annotation text ----------------
const sub = (size, color, shift) => ({ fontFamily: FONT, fontSize: size, fill: color, padding: [shift, 0, 0, 0] });
function txt(x, y, text, color, size, rich) {
  return {
    type: 'text', x, y, silent: true, z: 20,
    style: {
      text, fill: color, fontFamily: FONT, fontSize: size || 24,
      align: 'left', verticalAlign: 'middle', textAlign: 'left', textVerticalAlign: 'middle',
      rich: rich || {}
    }
  };
}
function dash(x1, x2, y, color) {
  return { type: 'line', silent: true, z: 20, shape: { x1, y1: y, x2, y2: y }, style: { stroke: color, lineWidth: 2.5 } };
}

const molLegend = [
  { label: 'H{s|2}O', color: C.h2o, y: 75 },
  { label: 'CH{s|4}', color: C.ch4, y: 106 },
  { label: 'CO', color: C.co, y: 137 },
  { label: 'NH{s|3}', color: C.nh3, y: 168 },
  { label: 'H{s|2}S', color: C.h2s, y: 199 }
];
const fitLegend = [
  { label: 'Data', color: C.data, y: 273 },
  { label: 'Uncert', color: C.uncert, y: 302 },
  { label: 'With NH{s|3}', color: C.withNH3, y: 331 },
  { label: 'No NH{s|3}', color: C.noNH3, y: 361 }
];

const graphic = [
  { type: 'rect', silent: true, z: 19, shape: { x: 1532.5, y: 53, width: 122.5, height: 169.5 }, style: { fill: '#fff', stroke: '#000', lineWidth: 2 } },
  { type: 'rect', silent: true, z: 19, shape: { x: 1505, y: 256, width: 190, height: 130.5 }, style: { fill: '#fff', stroke: '#000', lineWidth: 2 } },
  { type: 'rect', silent: true, z: 19, shape: { x: 1506, y: 523.5, width: 190, height: 89.5 }, style: { fill: 'none', stroke: C.box, lineWidth: 5.5 } }
];
molLegend.forEach(it => {
  graphic.push(dash(1553, 1567, it.y - 2, it.color));
  graphic.push(txt(1587, it.y, it.label, it.color, 24, { s: sub(17, it.color, 14) }));
});
fitLegend.forEach(it => {
  graphic.push(dash(1530, 1540, it.y - 2, it.color));
  graphic.push(txt(1559, it.y, it.label, it.color, 24, { s: sub(17, it.color, 14) }));
});
graphic.push(
  txt(1513, 410, 'Model', '#000'),
  txt(1513, 440, 'parameters:', '#000'),
  txt(1513, 476, 'T{s|eff}=1100 K', '#000', 24, { s: sub(17, '#000', 14) }),
  txt(1513, 507, 'log(g)=5.0', '#000'),
  txt(1513, 537, 'v sin(i)=', '#000'),
  txt(1538, 567, '23.2km/s', '#000'),
  txt(1513, 597, 'RV=6.4km/s', '#000'),
  txt(1512, 638, 'Δχ', C.withNH3),
  txt(1543, 624, '2', C.withNH3, 16),
  txt(1543, 647, 'reduced', C.withNH3, 16),
  txt(1608, 638, '=1.8', C.withNH3),
  txt(1512, 670, 'Δχ', C.noNH3),
  txt(1543, 656, '2', C.noNH3, 16),
  txt(1543, 679, 'reduced', C.noNH3, 16),
  txt(1608, 670, '=14', C.noNH3),
  txt(1513, 707, 'd.o.f.=1120', '#000')
);

const chart = echarts.init(document.getElementById('chart'), null, { renderer: 'canvas' });
chart.setOption({
  animation: false,
  backgroundColor: '#fff',
  title: {
    text: 'Detection of NH{s|3} in the K band, Order m=89',
    left: 838, top: 6, textAlign: 'center',
    textStyle: {
      fontFamily: FONT, fontSize: 31, fontWeight: 'normal', color: '#000',
      rich: { s: { fontFamily: FONT, fontSize: 20, color: '#000', padding: [20, 0, 0, 0] } }
    }
  },
  grid: [
    { left: 180, width: 1316, top: 43, height: 207 },
    { left: 180, width: 1316, top: 250, height: 206 },
    { left: 180, width: 1316, top: 456, height: 208 }
  ],
  xAxis: xAxes,
  yAxis: yAxes,
  series,
  graphic
});
</script>
</body>
</html>
